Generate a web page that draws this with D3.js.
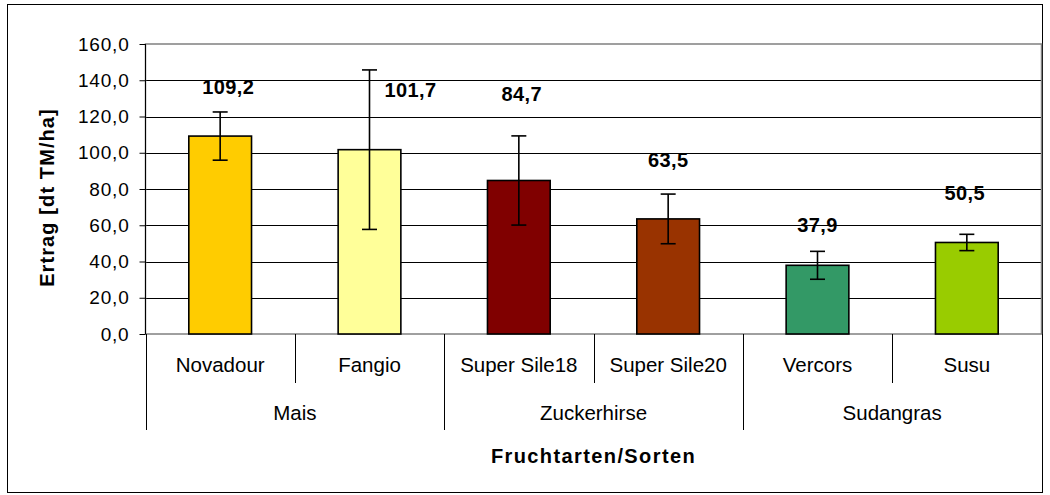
<!DOCTYPE html>
<html><head><meta charset="utf-8">
<script src="https://cdn.jsdelivr.net/npm/d3@7"></script>
<style>body{margin:0;background:#fff}svg{display:block}text{font-family:"Liberation Sans",Arial,sans-serif}</style>
</head><body><svg id="c" width="1050" height="495"></svg>
<script>
const sorten = ["Novadour","Fangio","Super Sile18","Super Sile20","Vercors","Susu"];
const gruppen = ["Mais","Mais","Zuckerhirse","Zuckerhirse","Sudangras","Sudangras"];
const ertrag = [109.2,101.7,84.7,63.5,37.9,50.5];
const fehler = [13.3,44.0,24.6,13.7,7.7,4.5];
const farben = ["#FFCC00","#FFFF99","#800000","#993300","#339966","#99CC00"];
const yTicks = [0,20,40,60,80,100,120,140,160];
// label anchor (data units) and horizontal shift of the value labels
const labelAt = [136.4,134.6,132.8,96.0,60.3,77.7];
const labelDx = [8,41,3,0,0,-2];

const svg = d3.select("#c");
const L=145.5, R=1041.5, T=44, B=334;
const x = d3.scaleBand().domain(sorten).range([L,R]).paddingInner(0.58).paddingOuter(0.29);
const xc = d3.scaleBand().domain(sorten).range([L,R]);
const y = d3.scaleLinear().domain([0,160]).range([B,T]);
const fmt = v => d3.format(".1f")(v).replace(".",",");

// outer border
svg.append("rect").attr("x",7.5).attr("y",4.5).attr("width",1035).attr("height",488).attr("fill","none").attr("stroke","#000");

// gridlines
svg.append("g").selectAll("line").data(yTicks.filter(t=>t>0&&t<160)).join("line")
  .attr("x1",L).attr("x2",R).attr("y1",d=>Math.round(y(d))+0.5).attr("y2",d=>Math.round(y(d))+0.5)
  .attr("stroke","#000").attr("stroke-width",1);
// plot area border
svg.append("rect").attr("x",L).attr("y",T).attr("width",R-L).attr("height",B-T).attr("fill","none").attr("stroke","#808080").attr("stroke-width",1.5);

// y axis
const ya = svg.append("g").attr("transform",`translate(${L},0)`)
  .call(d3.axisLeft(y).tickValues(yTicks).tickFormat(fmt).tickSize(6).tickPadding(10));
ya.select(".domain").attr("stroke","#000").attr("d",`M0,${T}V${B}`);
ya.selectAll(".tick line").attr("stroke","#000");
ya.selectAll(".tick text").attr("font-size",19).attr("letter-spacing",0.8).attr("fill","#000").attr("font-family","Liberation Sans, Arial, sans-serif");

// bars
svg.append("g").selectAll("rect").data(sorten).join("rect")
  .attr("x",d=>x(d)).attr("width",x.bandwidth())
  .attr("y",(d,i)=>y(ertrag[i])).attr("height",(d,i)=>y(0)-y(ertrag[i]))
  .attr("fill",(d,i)=>farben[i]).attr("stroke","#000").attr("stroke-width",1.6);

// error bars
const eb = svg.append("g").attr("stroke","#000").attr("stroke-width",1.6);
sorten.forEach((s,i)=>{
  const cx = x(s)+x.bandwidth()/2;
  const y1=y(ertrag[i]+fehler[i]), y2=y(ertrag[i]-fehler[i]);
  eb.append("line").attr("x1",cx).attr("x2",cx).attr("y1",y1).attr("y2",y2);
  eb.append("line").attr("x1",cx-7.5).attr("x2",cx+7.5).attr("y1",y1).attr("y2",y1);
  eb.append("line").attr("x1",cx-7.5).attr("x2",cx+7.5).attr("y1",y2).attr("y2",y2);
});

// value labels
svg.append("g").selectAll("text").data(sorten).join("text")
  .attr("x",(d,i)=>x(d)+x.bandwidth()/2+labelDx[i]).attr("y",(d,i)=>y(labelAt[i]))
  .attr("dy","0.36em").attr("text-anchor","middle").attr("font-size",20).attr("font-weight","bold")
  .attr("letter-spacing",0.4).text((d,i)=>fmt(ertrag[i]));

// category axis lines
const ca = svg.append("g").attr("stroke","#000").attr("stroke-width",1);
const bounds = sorten.map(s=>xc(s)).concat([R]);
bounds.forEach((bx,i)=>{
  const isGroup = i===0 || i===bounds.length-1 || gruppen[i]!==gruppen[i-1];
  ca.append("line").attr("x1",Math.round(bx)+0.5).attr("x2",Math.round(bx)+0.5).attr("y1",B).attr("y2",isGroup?430:383);
});
svg.append("g").selectAll("text").data(sorten).join("text")
  .attr("x",d=>xc(d)+xc.bandwidth()/2).attr("y",365).attr("dy","0.36em")
  .attr("text-anchor","middle").attr("font-size",20.5).text(d=>d);
const groups = Array.from(new Set(gruppen));
svg.append("g").selectAll("text").data(groups).join("text")
  .attr("x",g=>{const idx=sorten.filter((s,i)=>gruppen[i]===g);return (xc(idx[0])+xc(idx[idx.length-1])+xc.bandwidth())/2;})
  .attr("y",412.5).attr("dy","0.36em").attr("text-anchor","middle").attr("font-size",20.5).text(g=>g);

// axis titles
svg.append("text").attr("x",(L+R)/2).attr("y",456).attr("dy","0.36em").attr("text-anchor","middle")
  .attr("font-size",20).attr("font-weight","bold").attr("letter-spacing",1.4).text("Fruchtarten/Sorten");
svg.append("text").attr("transform","translate(47,197.5) rotate(-90)").attr("dy","0.36em").attr("text-anchor","middle")
  .attr("font-size",20).attr("font-weight","bold").attr("letter-spacing",1.1).text("Ertrag [dt TM/ha]");
</script></body></html>
